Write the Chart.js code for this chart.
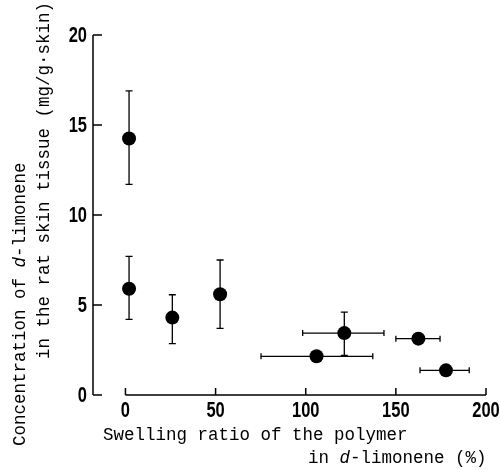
<!DOCTYPE html>
<html>
<head>
<meta charset="utf-8">
<script src="https://cdn.jsdelivr.net/npm/chart.js@4.4.0/dist/chart.umd.min.js"></script>
<style>
  html, body { margin: 0; padding: 0; background: #fff; }
  #wrap { width: 501px; height: 470px; }
</style>
</head>
<body>
<div id="wrap"><canvas id="chart" width="501" height="470"></canvas></div>
<script>
// swelling ratio (%) and skin concentration (mg/g skin)
const swelling = [2, 2, 26, 52.5, 106, 121.4, 162.5, 177.8];
const conc = [14.25, 5.9, 4.3, 5.6, 2.15, 3.44, 3.13, 1.37];
// vertical error bars (null = none)
const concLow = [11.7, 4.2, 2.85, 3.7, null, 2.2, null, null];
const concHigh = [16.9, 7.7, 5.57, 7.5, null, 4.6, null, null];
// horizontal error bars
const swellLow = [null, null, null, null, 75.2, 98.3, 150, 163.4];
const swellHigh = [null, null, null, null, 137.2, 143.4, 174.5, 190.7];

const xTicks = [0, 50, 100, 150, 200];
const yTicks = [0, 5, 10, 15, 20];

const tickFont = 'bold 22px "Liberation Sans", Arial, sans-serif';
const tickSquash = 0.75; // digits in the original are tall and narrow
const monoFont = '17.5px "Liberation Mono", monospace';
const monoItalic = 'italic 17.5px "Liberation Mono", monospace';

const xTitle1 = [['Swelling ratio of the polymer', monoFont]];
const xTitle2 = [['in ', monoFont], ['d', monoItalic], ['-limonene (%)', monoFont]];
const yTitle1 = [['Concentration of ', monoFont], ['d', monoItalic], ['-limonene', monoFont]];
const yTitle2 = [['in the rat skin tissue (mg/g\u00b7skin)', monoFont]];

function drawSegments(ctx, segs, x, y) {
    segs.forEach(([txt, font]) => {
        ctx.font = font;
        ctx.fillText(txt, x, y);
        x += ctx.measureText(txt).width;
    });
}

function squashedText(ctx, txt, x, y) {
    ctx.save();
    ctx.translate(x, y);
    ctx.scale(tickSquash, 1);
    ctx.fillText(txt, 0, 0);
    ctx.restore();
}

const errorBars = {
    id: 'errorBars',
    beforeDatasetsDraw(chart) {
        const ctx = chart.ctx, xs = chart.scales.x, ys = chart.scales.y;
        ctx.save();
        ctx.strokeStyle = '#000';
        ctx.lineWidth = 1.3;
        swelling.forEach((sx, i) => {
            const px = xs.getPixelForValue(sx), py = ys.getPixelForValue(conc[i]);
            ctx.beginPath();
            if (concLow[i] !== null) {
                const y1 = ys.getPixelForValue(concLow[i]), y2 = ys.getPixelForValue(concHigh[i]);
                ctx.moveTo(px, y1); ctx.lineTo(px, y2);
                ctx.moveTo(px - 3.5, y1); ctx.lineTo(px + 3.5, y1);
                ctx.moveTo(px - 3.5, y2); ctx.lineTo(px + 3.5, y2);
            }
            if (swellLow[i] !== null) {
                const x1 = xs.getPixelForValue(swellLow[i]), x2 = xs.getPixelForValue(swellHigh[i]);
                ctx.moveTo(x1, py); ctx.lineTo(x2, py);
                ctx.moveTo(x1, py - 3); ctx.lineTo(x1, py + 3);
                ctx.moveTo(x2, py - 3); ctx.lineTo(x2, py + 3);
            }
            ctx.stroke();
        });
        ctx.restore();
    }
};

const axesAndTitles = {
    id: 'axesAndTitles',
    afterDraw(chart) {
        const ctx = chart.ctx, xs = chart.scales.x, ys = chart.scales.y;
        const left = chart.chartArea.left;
        const y0 = ys.getPixelForValue(0);
        ctx.save();
        ctx.strokeStyle = '#000';
        ctx.fillStyle = '#000';
        ctx.lineWidth = 1.5;

        // y axis, ticks pointing inward
        ctx.beginPath();
        ctx.moveTo(left, ys.getPixelForValue(yTicks[yTicks.length - 1]));
        ctx.lineTo(left, y0);
        yTicks.forEach(v => {
            const p = ys.getPixelForValue(v);
            ctx.moveTo(left, p); ctx.lineTo(left + 9, p);
        });
        // x axis only spans the tick range, ticks pointing up
        ctx.moveTo(xs.getPixelForValue(xTicks[0]), y0);
        ctx.lineTo(xs.getPixelForValue(xTicks[xTicks.length - 1]), y0);
        xTicks.forEach(v => {
            const p = xs.getPixelForValue(v);
            ctx.moveTo(p, y0); ctx.lineTo(p, y0 - 7);
        });
        ctx.stroke();

        ctx.font = tickFont;
        ctx.textAlign = 'right';
        ctx.textBaseline = 'middle';
        yTicks.forEach(v => squashedText(ctx, String(v), left - 6, ys.getPixelForValue(v) + 1));
        ctx.textAlign = 'center';
        ctx.textBaseline = 'top';
        xTicks.forEach(v => squashedText(ctx, String(v), xs.getPixelForValue(v), y0 + 5));

        // axis titles
        ctx.textAlign = 'left';
        ctx.textBaseline = 'alphabetic';
        drawSegments(ctx, xTitle1, 103, 440);
        drawSegments(ctx, xTitle2, 308, 463);

        ctx.save();
        ctx.rotate(-Math.PI / 2);
        drawSegments(ctx, yTitle1, -446, 25);
        drawSegments(ctx, yTitle2, -359, 49);
        ctx.restore();

        ctx.restore();
    }
};

new Chart(document.getElementById('chart'), {
    type: 'scatter',
    data: {
        datasets: [{
            data: swelling.map((x, i) => ({ x: x, y: conc[i] })),
            backgroundColor: '#000',
            borderWidth: 0,
            pointRadius: 7,
            pointHoverRadius: 7
        }]
    },
    options: {
        responsive: false,
        animation: false,
        events: [],
        layout: { padding: { left: 93, right: 15, top: 35, bottom: 75 } },
        plugins: { legend: { display: false }, tooltip: { enabled: false } },
        scales: {
            x: { type: 'linear', min: -18, max: 200, display: false },
            y: { type: 'linear', min: 0, max: 20, display: false }
        }
    },
    plugins: [errorBars, axesAndTitles]
});
</script>
</body>
</html>
